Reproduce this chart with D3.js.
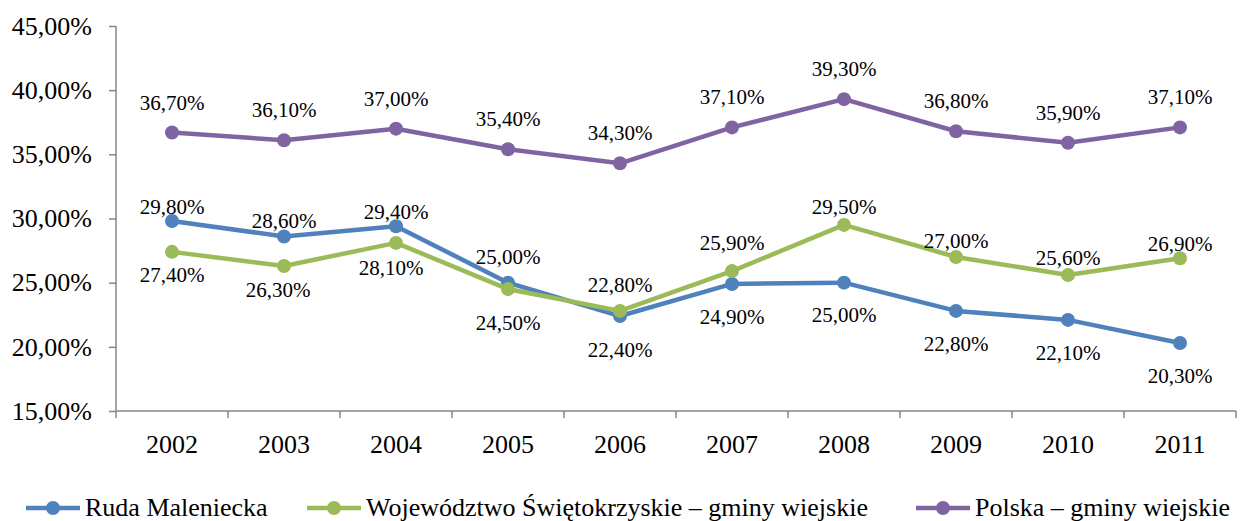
<!DOCTYPE html>
<html>
<head>
<meta charset="utf-8">
<script src="https://cdn.jsdelivr.net/npm/d3@7"></script>
</head>
<body style="margin:0">
<svg id="chart" width="1241" height="521" font-family="Liberation Serif"></svg>
<script>
// data
let years = ['2002', '2003', '2004', '2005', '2006', '2007', '2008', '2009', '2010', '2011'];
let rudaValues = [29.8, 28.6, 29.4, 25.0, 22.4, 24.9, 25.0, 22.8, 22.1, 20.3];
let wojValues = [27.4, 26.3, 28.1, 24.5, 22.8, 25.9, 29.5, 27.0, 25.6, 26.9];
let polskaValues = [36.7, 36.1, 37.0, 35.4, 34.3, 37.1, 39.3, 36.8, 35.9, 37.1];
let yTicks = [15, 20, 25, 30, 35, 40, 45];
let seriesNames = ['Ruda Maleniecka', 'Województwo Świętokrzyskie – gminy wiejskie', 'Polska – gminy wiejskie'];

// label placement (px offsets from the point), like excel put them
let rudaLabelDy = [-14, -15, -14, -26, 34, 33, 32, 33, 33, 33];
let wojLabelDy = [23, 24, 25, 34, -26, -28, -18, -16, -17, -14];
let polskaLabelDy = [-30, -30, -30, -30, -30, -30, -30, -30, -30, -30];
let wojLabelDx = [0, -6, -5, 0, 0, 0, 0, 0, 0, 0];

let colors = ['#4F81BD', '#9BBB59', '#8064A2'];
let axisColor = '#868686';
let serif = "'Liberation Serif'";

let series = [
  { name: seriesNames[0], values: rudaValues, dy: rudaLabelDy, dx: years.map(() => 0), color: colors[0] },
  { name: seriesNames[1], values: wojValues, dy: wojLabelDy, dx: wojLabelDx, color: colors[1] },
  { name: seriesNames[2], values: polskaValues, dy: polskaLabelDy, dx: years.map(() => 0), color: colors[2] }
];

let pl = d3.formatLocale({ decimal: ',', thousands: ' ', grouping: [3], currency: ['', ' zł'] });
let pct = (v) => pl.format('.2f')(v) + '%';

let svg = d3.select('#chart');

let x = d3.scaleBand().domain(years).range([116, 1236]);
let y = d3.scaleLinear().domain([15, 45]).range([411, 26]);
let cx = (d) => x(d) + x.bandwidth() / 2;

// y axis
let yAxis = svg.append('g')
  .attr('transform', 'translate(116,0)')
  .call(d3.axisLeft(y).tickValues(yTicks).tickSize(7).tickPadding(17).tickFormat(pct));
yAxis.attr('font-family', null).attr('font-size', null);
yAxis.selectAll('line, path').attr('stroke', axisColor).attr('stroke-width', 1.5);
yAxis.selectAll('text')
  .attr('font-size', 26)
  .style('font-family', serif)
  .attr('fill', '#000');
yAxis.select('.domain').attr('d', 'M0,' + y(45) + 'V' + y(15));

// x axis, ticks between the categories
let xAxis = svg.append('g')
  .attr('transform', 'translate(0,' + y(15) + ')');
xAxis.append('line').attr('x1', 116).attr('x2', 1236)
  .attr('stroke', axisColor).attr('stroke-width', 1.5);
let edges = years.map((d) => x(d)).concat([x.range()[1]]);
xAxis.selectAll('.tk')
  .data(edges)
  .enter()
  .append('line')
  .attr('class', 'tk')
  .attr('x1', (d) => d)
  .attr('x2', (d) => d)
  .attr('y1', 0)
  .attr('y2', 7)
  .attr('stroke', axisColor)
  .attr('stroke-width', 1.5);
xAxis.selectAll('text')
  .data(years)
  .enter()
  .append('text')
  .attr('x', cx)
  .attr('y', 42)
  .attr('text-anchor', 'middle')
  .attr('font-size', 26)
  .style('font-family', serif)
  .text((d) => d);

let line = d3.line()
  .x((d, i) => cx(years[i]))
  .y((d) => y(d));

series.forEach((s) => {
  let g = svg.append('g');
  g.append('path')
    .attr('d', line(s.values))
    .attr('fill', 'none')
    .attr('stroke', s.color)
    .attr('stroke-width', 4.5)
    .attr('stroke-linejoin', 'round');
  g.selectAll('circle')
    .data(s.values)
    .enter()
    .append('circle')
    .attr('cx', (d, i) => cx(years[i]))
    .attr('cy', (d) => y(d))
    .attr('r', 7)
    .attr('fill', s.color);
});

// data labels on top of everything
series.forEach((s) => {
  svg.append('g')
    .selectAll('text')
    .data(s.values)
    .enter()
    .append('text')
    .attr('x', (d, i) => cx(years[i]) + s.dx[i])
    .attr('y', (d, i) => y(d) + s.dy[i] + 7)
    .attr('text-anchor', 'middle')
    .attr('font-size', 21)
    .style('font-family', serif)
    .attr('fill', '#000')
    .text((d) => pct(d));
});

// legend
let legendX = [26, 307, 916];
series.forEach((s, i) => {
  let lg = svg.append('g').attr('transform', 'translate(' + legendX[i] + ',508)');
  lg.append('line')
    .attr('x1', 0).attr('x2', 54)
    .attr('stroke', s.color).attr('stroke-width', 4.5);
  lg.append('circle').attr('cx', 27).attr('r', 7).attr('fill', s.color);
  lg.append('text')
    .attr('x', 59)
    .attr('y', 8)
    .attr('font-size', 26)
    .style('font-family', serif)
    .attr('fill', '#000')
    .text(s.name);
});
</script>
</body>
</html>
